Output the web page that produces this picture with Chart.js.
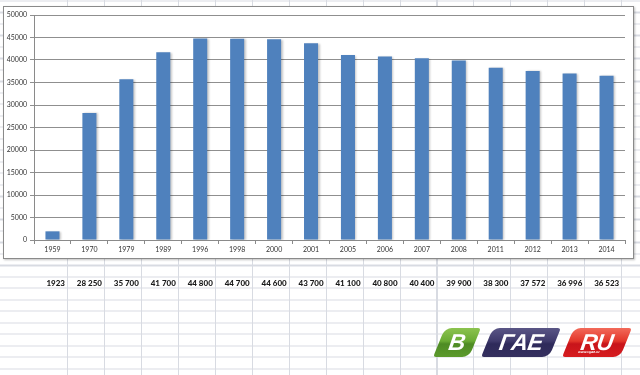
<!DOCTYPE html>
<html>
<head>
<meta charset="utf-8">
<script src="https://cdn.jsdelivr.net/npm/chart.js@4.4.1/dist/chart.umd.min.js"></script>
<style>
  html, body { margin: 0; padding: 0; }
  body { width: 640px; height: 375px; position: relative; overflow: hidden; background: #fff; font-family: Lato, "Liberation Sans", sans-serif; }
  #rows { position: absolute; left: 0; top: 0; width: 640px; height: 375px;
    background-image: repeating-linear-gradient(to bottom, #d8dbe2 0px, #d8dbe2 1px, transparent 1px, transparent 11.5px);
    background-position: 0 0.5px; }
  #cols { position: absolute; left: 67px; top: 0; width: 573px; height: 375px;
    background-image: repeating-linear-gradient(to right, #d8dbe2 0px, #d8dbe2 1px, transparent 1px, transparent 36.95px); }
  #box { position: absolute; left: 3px; top: 6px; width: 629px; height: 251px; background: #fff;
    border: 1px solid #8a8a8a; box-shadow: 1px 1px 2px rgba(0,0,0,0.25); }
  #c { position: absolute; left: 0; top: 0; }
  #cells { position: absolute; left: 0; top: 0; width: 640px; height: 375px; }
  .cell { position: absolute; top: 277px; height: 12px; line-height: 12px; text-align: right; font-weight: 900; font-size: 8px; color: #1a1a1a; white-space: nowrap; }
  .logo { position: absolute; top: 328px; height: 29px; transform: skewX(-22deg); border-radius: 7px 3px 7px 3px; }
  .logo span { position: absolute; left: 0; right: 0; top: 0; text-align: center; transform: skewX(14deg); color: #fff; font-weight: 900; font-style: italic; font-family: "Liberation Sans", Arial, sans-serif; font-size: 23px; line-height: 29px; letter-spacing: -0.5px; }
  #lg1 { left: 439px; width: 36px; background: linear-gradient(to bottom, #8cc34f 0%, #6aab34 45%, #4e8b24 55%, #5c9a2c 100%); }
  #lg2 { left: 487px; width: 68px; background: linear-gradient(to bottom, #5a5686 0%, #3f3a6c 45%, #2e2a5a 55%, #35305f 100%); }
  #lg3 { left: 568px; width: 58px; background: linear-gradient(to bottom, #f26a5a 0%, #e3362a 45%, #c8141a 55%, #d61c1f 100%); }
  #lg3 small { position: absolute; left: 14px; top: 22px; color: #fff; font-size: 3.5px; font-weight: bold; font-style: italic; transform: skewX(14deg); font-family: "Liberation Sans", sans-serif; }
</style>
</head>
<body>
<div id="rows"></div>
<div id="cols"></div>
<div id="box"></div>
<canvas id="c" width="640" height="375"></canvas>
<div id="cells"></div>
<div class="logo" id="lg1"><span>В</span></div>
<div class="logo" id="lg2"><span>ГАЕ</span></div>
<div class="logo" id="lg3"><span>RU</span><small>www.vgae.ru</small></div>
<script>
const years = ["1959","1970","1979","1989","1996","1998","2000","2001","2005","2006","2007","2008","2011","2012","2013","2014"];
const population = [1923, 28250, 35700, 41700, 44800, 44700, 44600, 43700, 41100, 40800, 40400, 39900, 38300, 37572, 36996, 36523];
const yTicks = [0, 5000, 10000, 15000, 20000, 25000, 30000, 35000, 40000, 45000, 50000];

// value cells row under the chart (spreadsheet row)
function fmt(n) {
  if (n < 10000) return String(n);
  return String(n).replace(/\B(?=(\d{3})+(?!\d))/g, " ");
}
const cellsEl = document.getElementById('cells');
population.forEach((v, i) => {
  const right = 67 + i * 36.95;
  const d = document.createElement('div');
  d.className = 'cell';
  d.style.left = (right - 36) + 'px';
  d.style.width = '34px';
  d.textContent = fmt(v);
  cellsEl.appendChild(d);
});

const barShadow = {
  id: 'barShadow',
  beforeDatasetsDraw(chart) {
    const ctx = chart.ctx;
    ctx.save();
    ctx.shadowColor = 'rgba(0,0,0,0.22)';
    ctx.shadowBlur = 2;
    ctx.shadowOffsetX = 1.5;
    ctx.shadowOffsetY = 0.5;
  },
  afterDatasetsDraw(chart) {
    chart.ctx.restore();
  }
};

const tickFont = { family: 'Lato, "Liberation Sans", sans-serif', size: 7 };

new Chart(document.getElementById('c'), {
  type: 'bar',
  data: {
    labels: years,
    datasets: [{
      data: population,
      backgroundColor: '#4f81bd',
      borderWidth: 0,
      barPercentage: 0.38,
      categoryPercentage: 1.0
    }]
  },
  options: {
    responsive: false,
    devicePixelRatio: 1,
    animation: false,
    layout: { padding: { top: 15, right: 15, left: 0, bottom: 115 } },
    plugins: { legend: { display: false }, tooltip: { enabled: false } },
    scales: {
      x: {
        offset: true,
        grid: { offset: true, drawOnChartArea: false, drawTicks: true, tickLength: 4, color: '#8a8a8a' },
        border: { display: true, color: '#8a8a8a' },
        ticks: { font: tickFont, color: '#333', padding: 2, maxRotation: 0, autoSkip: false },
        afterFit(s) { s.height = 20; }
      },
      y: {
        min: 0, max: 50000,
        afterBuildTicks(s) { s.ticks = yTicks.map(v => ({ value: v })); },
        grid: { color: '#8f8f8f', drawTicks: true, tickLength: 4 },
        border: { display: true, color: '#8a8a8a' },
        ticks: { font: tickFont, color: '#333', padding: 3, callback: v => String(v) },
        afterFit(s) { s.width = 34; }
      }
    }
  },
  plugins: [barShadow]
});
</script>
</body>
</html>
